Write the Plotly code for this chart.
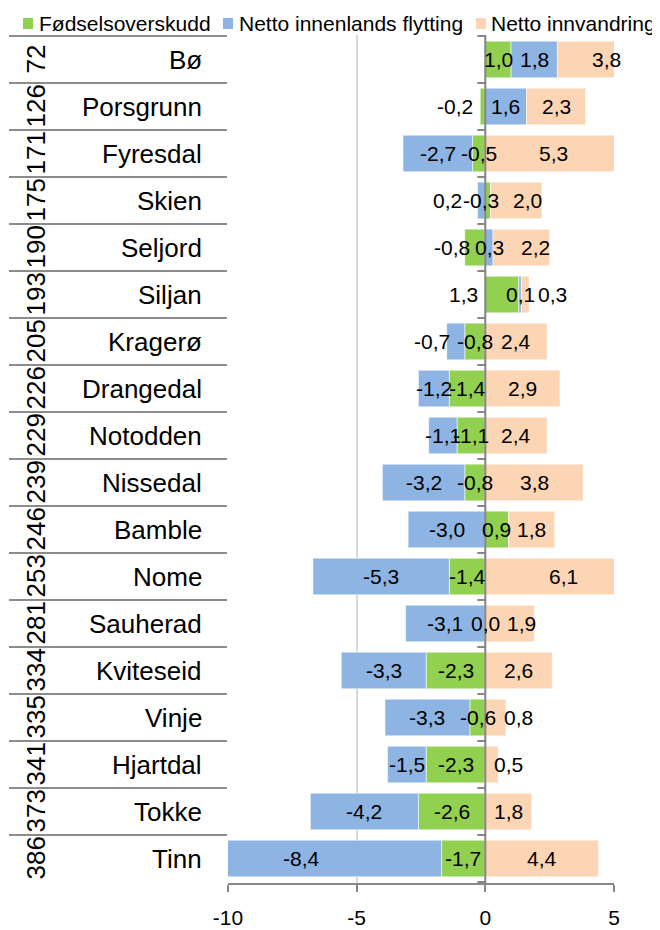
import plotly.graph_objects as go

# ---------------- data ----------------
ranks = ["72", "126", "171", "175", "190", "193", "205", "226", "229",
         "239", "246", "253", "281", "334", "335", "341", "373", "386"]
municipalities = ["Bø", "Porsgrunn", "Fyresdal", "Skien", "Seljord", "Siljan",
                  "Kragerø", "Drangedal", "Notodden", "Nissedal", "Bamble", "Nome",
                  "Sauherad", "Kviteseid", "Vinje", "Hjartdal", "Tokke", "Tinn"]
fodselsoverskudd = [1.0, -0.2, -0.5, 0.2, -0.8, 1.3, -0.8, -1.4, -1.1,
                    -0.8, 0.9, -1.4, 0.0, -2.3, -0.6, -2.3, -2.6, -1.7]
innenlands_flytting = [1.8, 1.6, -2.7, -0.3, 0.3, 0.1, -0.7, -1.2, -1.1,
                       -3.2, -3.0, -5.3, -3.1, -3.3, -3.3, -1.5, -4.2, -8.4]
innvandring = [3.8, 2.3, 5.3, 2.0, 2.2, 0.3, 2.4, 2.9, 2.4,
               3.8, 1.8, 6.1, 1.9, 2.6, 0.8, 0.5, 1.8, 4.4]
series_names = ["Fødselsoverskudd", "Netto innenlands flytting", "Netto innvandring"]
x_tickvals = [-10, -5, 0, 5]
x_ticktext = ["-10", "-5", "0", "5"]

# ---------------- styling ----------------
colors = ["#92D050", "#8DB4E2", "#FCD5B4"]
FONT = "Liberation Sans, Arial, sans-serif"
OFF = 8                      # page body margin in the browser
W, H = 660 - OFF, 930 - OFF
PLOT_L, PLOT_R, PLOT_T, PLOT_B = 228, 614, 35, 883   # target screen pixels
ML = PLOT_L - OFF
MT = PLOT_T - OFF
MR = W - (PLOT_R - OFF)
MB = H - (PLOT_B - OFF)
PW, PH = W - ML - MR, H - MT - MB


def px_x(px):
    return (px - OFF - ML) / PW


def px_y(py):
    return (H - MB - (py - OFF)) / PH


# pixel nudges for a few crowded data labels (series index, municipality)
label_nudge = {
    (0, "Porsgrunn"): -28, (0, "Skien"): -40, (2, "Skien"): 11,
    (0, "Seljord"): -23, (2, "Seljord"): 14, (0, "Siljan"): -39,
    (2, "Siljan"): 27, (1, "Kragerø"): -24, (2, "Sauherad"): 12,
    (2, "Vinje"): 23, (2, "Hjartdal"): 17, (1, "Tinn"): -32,
}

series_vals = [fodselsoverskudd, innenlands_flytting, innvandring]

fig = go.Figure()
for name, vals, col in zip(series_names, series_vals, colors):
    fig.add_trace(go.Bar(
        y=municipalities, x=vals, orientation="h", name=name,
        marker=dict(color=col, line=dict(color="rgba(255,255,255,0.7)", width=0.8)),
        showlegend=False, hoverinfo="x+name",
    ))


def fmt(v):
    return f"{v:.1f}".replace(".", ",")


annotations = []
n = len(municipalities)
pos = [0.0] * n
neg = [0.0] * n
for s, vals in enumerate(series_vals):
    for i, v in enumerate(vals):
        if v >= 0:
            start = pos[i]
            pos[i] += v
        else:
            start = neg[i]
            neg[i] += v
        annotations.append(dict(
            x=start + v / 2, y=municipalities[i], xref="x", yref="y",
            text=fmt(v), showarrow=False,
            xshift=label_nudge.get((s, municipalities[i]), 0),
            font=dict(family=FONT, size=21, color="black"),
        ))

# category labels: rank (rotated) and name
for r, m in zip(ranks, municipalities):
    annotations.append(dict(
        x=px_x(35), y=m, xref="paper", yref="y", text=r, showarrow=False,
        textangle=-90, xanchor="center", yanchor="middle",
        font=dict(family=FONT, size=26, color="black"),
    ))
    annotations.append(dict(
        x=px_x(204), y=m, xref="paper", yref="y", text=m, showarrow=False,
        xanchor="right", yanchor="middle",
        font=dict(family=FONT, size=26, color="black"),
    ))

shapes = []
# manual legend
legend_sq = [23, 223, 476]
legend_tx = [37, 237, 489]
for name, col, sx, tx in zip(series_names, colors, legend_sq, legend_tx):
    shapes.append(dict(type="rect", xref="paper", yref="paper",
                       x0=px_x(sx), x1=px_x(sx + 10), y0=px_y(29), y1=px_y(18),
                       fillcolor=col, line=dict(width=0)))
    annotations.append(dict(
        x=px_x(tx), y=px_y(23), xref="paper", yref="paper", text=name,
        showarrow=False, xanchor="left", yanchor="middle",
        font=dict(family=FONT, size=21, color="black"),
    ))

# category axis line at zero with ticks at boundaries
shapes.append(dict(type="line", xref="x", yref="paper", x0=0, x1=0, y0=0, y1=1,
                   line=dict(color="#878787", width=2), layer="above"))
for b in range(n + 1):
    shapes.append(dict(type="line", xref="x", yref="y", xsizemode="pixel", xanchor=0,
                       x0=-8, x1=0, y0=b - 0.5, y1=b - 0.5,
                       line=dict(color="#878787", width=2), layer="above"))

fig.update_layout(
    width=W, height=H,
    margin=dict(l=ML, r=MR, t=MT, b=MB, autoexpand=False),
    barmode="relative", bargap=0.22,
    plot_bgcolor="white", paper_bgcolor="white",
    font=dict(family=FONT, size=21, color="black"),
    showlegend=False,
    annotations=annotations, shapes=shapes,
    xaxis=dict(
        range=[-10, 5], tickvals=x_tickvals, ticktext=x_ticktext,
        showgrid=True, gridcolor="#d9d9d9", gridwidth=1.5,
        zeroline=False, showline=True, linecolor="#878787", linewidth=1.5,
        ticks="outside", ticklen=7, tickwidth=1.5, tickcolor="#878787",
        tickfont=dict(family=FONT, size=21, color="black"),
        ticklabelstandoff=8, automargin=False,
    ),
    yaxis=dict(
        categoryorder="array", categoryarray=municipalities, autorange="reversed",
        showticklabels=False, ticks="outside", tickson="boundaries",
        ticklen=218, tickwidth=2, tickcolor="#8c8c8c",
        showgrid=False, zeroline=False, showline=False, automargin=False,
    ),
)

fig.write_html("out.html")
